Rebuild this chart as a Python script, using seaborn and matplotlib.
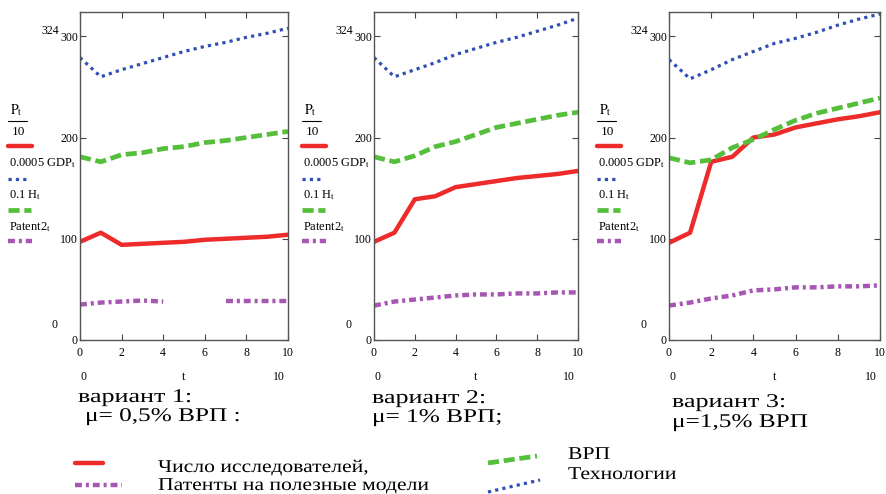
import numpy as np
import pandas as pd
import seaborn as sns
import matplotlib.pyplot as plt
from matplotlib.lines import Line2D
from matplotlib.patheffects import AbstractPathEffect
from matplotlib.transforms import Affine2D

# values (three variants, t = 0..10)
t = list(range(11))

researchers_1 = [97, 106, 94, 95, 96, 97, 99, 100, 101, 102, 104]
gdp_1 = [279, 260, 267, 273, 279, 285, 290, 294, 299, 303, 308]
human_1 = [181, 176, 183, 185, 189, 191, 195, 197, 200, 203, 206]
patents_1 = [35, 37, 38, 39, 38, np.nan, np.nan, 39, 39, 39, 39]

researchers_2 = [97, 106, 139, 142, 151, 154, 157, 160, 162, 164, 167]
gdp_2 = [279, 260, 267, 274, 282, 288, 294, 299, 305, 311, 318]
human_2 = [181, 176, 182, 191, 196, 203, 210, 214, 218, 222, 225]
patents_2 = [34, 38, 40, 42, 44, 45, 45, 46, 46, 47, 47]

researchers_3 = [96, 106, 176, 181, 200, 203, 210, 214, 218, 221, 225]
gdp_3 = [277, 258, 267, 277, 285, 293, 298, 304, 311, 317, 322]
human_3 = [180, 175, 178, 190, 198, 208, 217, 224, 229, 234, 239]
patents_3 = [34, 37, 41, 44, 49, 50, 52, 52, 53, 53, 54]

variants = ["вариант 1:", "вариант 2:", "вариант 3:"]
mu_labels = ["μ= 0,5% ВРП :", "μ= 1% ВРП;", "μ=1,5% ВРП"]
series_names = ["researchers", "gdp", "human", "patents"]
panel_legend = [r"$\mathrm{P}_\mathrm{t}$", r"0.0005 GDP$_\mathrm{t}$",
                r"0.1 H$_\mathrm{t}$", r"Patent2$_\mathrm{t}$"]
legend_labels = ["Число исследователей,", "Патенты на полезные модели", "ВРП", "Технологии"]

values = {
    0: [researchers_1, gdp_1, human_1, patents_1],
    1: [researchers_2, gdp_2, human_2, patents_2],
    2: [researchers_3, gdp_3, human_3, patents_3],
}

rows = []
for v, lists in values.items():
    for name, vals in zip(series_names, lists):
        seg = 0
        for ti, val in zip(t, vals):
            if np.isnan(val):
                seg += 1
                continue
            rows.append({"variant": v, "series": name, "t": ti, "value": val, "seg": seg})
df = pd.DataFrame(rows)

sns.set_style("ticks")
plt.rcParams["font.family"] = ["Liberation Serif", "DejaVu Serif"]
plt.rcParams["mathtext.fontset"] = "stix"
plt.rcParams["lines.scale_dashes"] = False
plt.rcParams["text.color"] = "black"
plt.rcParams["xtick.labelcolor"] = "black"
plt.rcParams["ytick.labelcolor"] = "black"

RED = "#ee2b2b"
BLUE = "#2e4fb3"
GREEN = "#55bf3b"
PURPLE = "#a657b3"

styles = {
    "researchers": dict(color=RED, linewidth=3.2, linestyle="-"),
    "gdp": dict(color=BLUE, linewidth=2.3, linestyle=(0, (2.3, 3.0))),
    "human": dict(color=GREEN, linewidth=3.4, linestyle=(0, (8.0, 3.4))),
    "patents": dict(color=PURPLE, linewidth=3.2, linestyle=(0, (5.0, 2.8, 2.2, 2.8))),
}

W, H = 887, 494
fig = plt.figure(figsize=(W / 100, H / 100), dpi=100)


def fx(x):
    return x / W


def fy(y):
    return 1 - y / H


class HStretch(AbstractPathEffect):
    # the scanned captions are wider than any installed serif; widen glyphs about the left edge
    def __init__(self, sx, x0):
        super().__init__()
        self.sx = sx
        self.x0 = x0

    def draw_path(self, renderer, gc, tpath, affine, rgbFace=None):
        tr = affine + Affine2D().translate(-self.x0, 0).scale(self.sx, 1).translate(self.x0, 0)
        renderer.draw_path(gc, tpath, tr, rgbFace)


def wide_text(x, y, s, size, sx):
    fig.text(fx(x), fy(y), s, fontsize=size, va="baseline",
             path_effects=[HStretch(sx, x)])


panels = [(80, 288), (374, 578), (669, 880)]
top, bottom = 12, 340

for i, (x0, x1) in enumerate(panels):
    ax = fig.add_axes([fx(x0), fy(bottom), (x1 - x0) / W, (bottom - top) / H])
    for name in series_names:
        sub = df[(df["variant"] == i) & (df["series"] == name)]
        sns.lineplot(data=sub, x="t", y="value", units="seg", estimator=None,
                     ax=ax, legend=False, solid_capstyle="round", **styles[name])
    ax.set_xlim(0, 10)
    ax.set_ylim(0, 324)
    ax.set_xticks([0, 2, 4, 6, 8, 10])
    ax.set_yticks([0, 100, 200, 300])
    ax.set_xlabel("")
    ax.set_ylabel("")
    ax.tick_params(direction="in", top=True, right=True, length=4, width=0.8,
                   labelsize=8.5, color="#444444")
    ax.tick_params(axis="x", pad=5)
    ax.tick_params(axis="y", pad=1.5)
    for sp in ax.spines.values():
        sp.set_visible(True)
        sp.set_color("#555555")
        sp.set_linewidth(1.0)

    # Mathcad-style limit labels
    fig.text(fx(x0 - 30), fy(31), "324", fontsize=8.5, ha="center", va="center")
    fig.text(fx(x0 - 25), fy(325), "0", fontsize=8.5, ha="center", va="center")
    ax.text(0.015, -0.113, "0", transform=ax.transAxes, fontsize=8.5, ha="center", va="center")
    ax.text(0.5, -0.113, "t", transform=ax.transAxes, fontsize=8.5, ha="center", va="center")
    ax.text(0.955, -0.113, "10", transform=ax.transAxes, fontsize=8.5, ha="center", va="center")

    # in-panel legend on the left margin
    lx = x0 - 72
    fig.text(fx(lx + 2), fy(110), panel_legend[0], fontsize=10, va="center")
    fig.add_artist(Line2D([fx(lx), fx(lx + 19)], [fy(121), fy(121)], color="black", lw=0.8))
    fig.text(fx(lx + 4), fy(132), "10", fontsize=9.5, va="center")
    fig.add_artist(Line2D([fx(lx), fx(lx + 24)], [fy(146), fy(146)], **styles["researchers"]))
    fig.text(fx(lx + 1), fy(163), panel_legend[1], fontsize=9, va="center")
    fig.add_artist(Line2D([fx(lx), fx(lx + 20)], [fy(179), fy(179)], **styles["gdp"]))
    fig.text(fx(lx + 1), fy(195), panel_legend[2], fontsize=9, va="center")
    fig.add_artist(Line2D([fx(lx), fx(lx + 23)], [fy(210), fy(210)], **styles["human"]))
    fig.text(fx(lx + 1), fy(227), panel_legend[3], fontsize=9, va="center")
    fig.add_artist(Line2D([fx(lx), fx(lx + 24)], [fy(241), fy(241)], **styles["patents"]))

# captions under each panel
cap_pos = [((78, 402), (85, 421)), ((372, 403), (372, 422)), ((672, 407), (672, 427))]
for i, ((ax_, ay_), (bx_, by_)) in enumerate(cap_pos):
    wide_text(ax_, ay_, variants[i], 14, 1.34)
    wide_text(bx_, by_, mu_labels[i], 14, 1.3)

# bottom legend
fig.add_artist(Line2D([fx(75), fx(103)], [fy(463), fy(463)], **styles["researchers"]))
fig.add_artist(Line2D([fx(75), fx(122)], [fy(485), fy(485)], **styles["patents"]))
fig.add_artist(Line2D([fx(488), fx(537)], [fy(463), fy(456)], **styles["human"]))
fig.add_artist(Line2D([fx(488), fx(540)], [fy(492), fy(480)], **styles["gdp"]))
wide_text(158, 472, legend_labels[0], 13, 1.2)
wide_text(158, 490, legend_labels[1], 13, 1.2)
wide_text(568, 459, legend_labels[2], 13, 1.2)
wide_text(568, 479, legend_labels[3], 13, 1.2)

fig.savefig("out.png", dpi=100)
